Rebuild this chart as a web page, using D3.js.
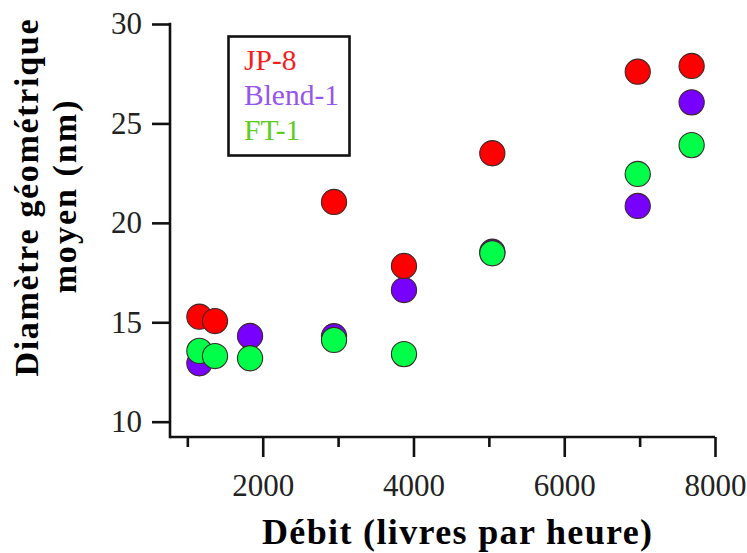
<!DOCTYPE html>
<html><head><meta charset="utf-8">
<script src="https://cdn.jsdelivr.net/npm/d3@7/dist/d3.min.js"></script>
<style>body{margin:0;background:#fff}svg{display:block}</style>
</head><body>
<svg id="c" width="747" height="553"></svg>
<script>
const seriesNames = ["Blend-1", "FT-1", "JP-8"];
const blendX = [1160, 1832, 2946, 3874, 5046, 6975, 7690];
const blendY = [12.94, 14.31, 14.30, 16.62, 18.55, 20.85, 26.06];
const ft1X = [1160, 1367, 1832, 2946, 3874, 5046, 6975, 7690];
const ft1Y = [13.56, 13.30, 13.19, 14.11, 13.40, 18.47, 22.46, 23.91];
const jp8X = [1160, 1367, 2946, 3874, 5046, 6975, 7690];
const jp8Y = [15.28, 15.06, 21.05, 17.83, 23.50, 27.60, 27.89];
const xMajorTicks = [2000, 4000, 6000, 8000];
const xMinorTicks = [1000, 3000, 5000, 7000];
const yTicks = [10, 15, 20, 25, 30];
const legendLabels = ["JP-8", "Blend-1", "FT-1"];
const xTitle = "Débit (livres par heure)";
const yTitle1 = "Diamètre géométrique";
const yTitle2 = "moyen (nm)";

const markerColor = {"JP-8": "#ff0000", "Blend-1": "#7700ff", "FT-1": "#00ff48"};
const textColor = {"JP-8": "#f51e1e", "Blend-1": "#9755ee", "FT-1": "#5fcc22"};

const svg = d3.select("#c");
const x = d3.scaleLinear().domain([770, 8000]).range([170, 715]);
const y = d3.scaleLinear().domain([9.23, 30]).range([437, 24]);

const tickFont = "'Liberation Serif', 'Times New Roman', serif";
const titleFont = "'Liberation Serif', serif";

// axes lines
svg.append("line").attr("x1", x(770)).attr("x2", x(8000)).attr("y1", y(9.23)).attr("y2", y(9.23))
  .attr("stroke", "#111").attr("stroke-width", 2.6);
svg.append("line").attr("x1", x(770)).attr("x2", x(770)).attr("y1", y(30)).attr("y2", y(9.23))
  .attr("stroke", "#111").attr("stroke-width", 2.6).attr("stroke-linecap", "square");

// y axis via d3
const yAxis = d3.axisLeft(y).tickValues(yTicks).tickSize(18).tickPadding(10).tickFormat(d3.format("d"));
const gy = svg.append("g").attr("transform", `translate(${x(770)},0)`).call(yAxis);
gy.attr("font-family", null).attr("font-size", null);
gy.select(".domain").remove();
gy.selectAll(".tick line").attr("stroke", "#111").attr("stroke-width", 2.6);
gy.selectAll(".tick text").style("font-family", tickFont).style("font-size", "31px").attr("fill", "#222");

// x axis major
const xAxis = d3.axisBottom(x).tickValues(xMajorTicks).tickSize(20).tickPadding(17).tickFormat(d3.format("d"));
const gx = svg.append("g").attr("transform", `translate(0,${y(9.23)})`).call(xAxis);
gx.attr("font-family", null).attr("font-size", null);
gx.select(".domain").remove();
gx.selectAll(".tick line").attr("stroke", "#111").attr("stroke-width", 2.6);
gx.selectAll(".tick text").style("font-family", tickFont).style("font-size", "31px").attr("fill", "#222");
// x minor
const xAxisMinor = d3.axisBottom(x).tickValues(xMinorTicks).tickSize(10).tickFormat("");
const gxm = svg.append("g").attr("transform", `translate(0,${y(9.23)})`).call(xAxisMinor);
gxm.select(".domain").remove();
gxm.selectAll(".tick line").attr("stroke", "#111").attr("stroke-width", 2.6);

// points
const series = [
  {name: "Blend-1", xs: blendX, ys: blendY},
  {name: "FT-1", xs: ft1X, ys: ft1Y},
  {name: "JP-8", xs: jp8X, ys: jp8Y}
];
series.forEach(s => {
  svg.append("g").selectAll("circle").data(s.xs.map((v, i) => [v, s.ys[i]])).join("circle")
    .attr("cx", d => x(d[0])).attr("cy", d => y(d[1])).attr("r", 12.6)
    .attr("fill", markerColor[s.name]).attr("stroke", "#3a2a2a").attr("stroke-width", 1.1);
});

// legend
svg.append("rect").attr("x", 228.5).attr("y", 36.5).attr("width", 121).attr("height", 119)
  .attr("fill", "#fff").attr("stroke", "#111").attr("stroke-width", 2.6);
legendLabels.forEach((l, i) => {
  svg.append("text").attr("x", 244).attr("y", 70 + i * 35).text(l)
    .style("font-family", tickFont).style("font-size", "29.5px").attr("fill", textColor[l]);
});

// titles
svg.append("text").attr("x", 457).attr("y", 544).attr("text-anchor", "middle")
  .style("font-family", titleFont).style("font-weight", "bold").style("font-size", "36px")
  .attr("textLength", 390).attr("lengthAdjust", "spacing").text(xTitle);

svg.append("text").attr("transform", "translate(38,198) rotate(-90)").attr("text-anchor", "middle")
  .style("font-family", titleFont).style("font-weight", "bold").style("font-size", "34px")
  .attr("textLength", 357).attr("lengthAdjust", "spacing").text(yTitle1);
svg.append("text").attr("transform", "translate(75.5,197) rotate(-90)").attr("text-anchor", "middle")
  .style("font-family", titleFont).style("font-weight", "bold").style("font-size", "34px")
  .attr("textLength", 193).attr("lengthAdjust", "spacing").text(yTitle2);
</script>
</body></html>
